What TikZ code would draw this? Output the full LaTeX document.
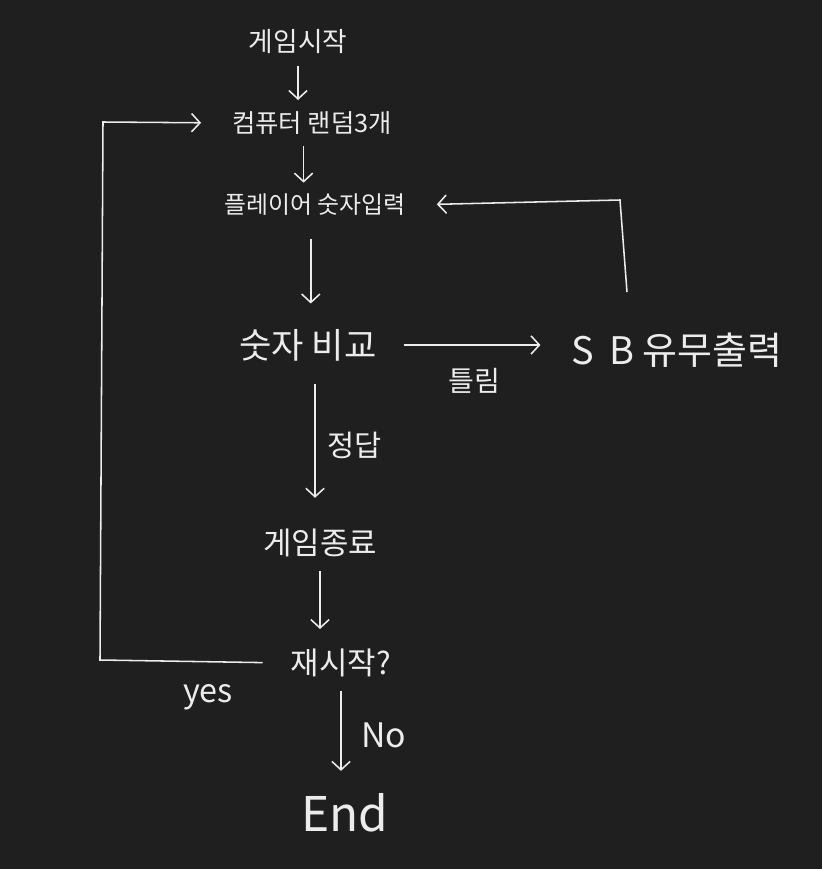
\documentclass[tikz,border=0pt]{standalone}
\usepackage{fontspec}
\newfontfamily\kr{Noto Sans CJK KR}
\usetikzlibrary{arrows.meta}
\definecolor{bg}{HTML}{1F1F1F}
\definecolor{ink}{HTML}{ECECEC}
\tikzset{
  txt/.style={text=ink,inner sep=2pt,font=\kr\fontsize{#1}{#1}\selectfont},
  flow/.style={draw=ink,line width=1.1pt,->}
}

\begin{document}
\begin{tikzpicture}[x=0.025cm,y=-0.025cm,>={Straight Barb[length=6pt,width=13pt]}]
  \fill[bg] (0,0) rectangle (822,869);
  % steps
  \node[txt=19] (start) at (298,42) {게임시작};
  \node[txt=18] (comp) at (312,123) {컴퓨터 랜덤3개};
  \node[txt=17] (player) at (315,205) {플레이어 숫자입력};
  \node[txt=25] (cmp) at (308,345) {숫자 비교};
  \node[txt=27] (sb) at (677,350) {S\, B 유무출력};
  \node[txt=22] (over) at (320,543) {게임종료};
  \node[txt=22] (again) at (341,663) {재시작?};
  \node[txt=34] (end) at (345,813) {End};
  % corners
  \coordinate (fb) at (627,292);
  \coordinate (turn) at (620,200);
  \coordinate (yl) at (100,660);
  \coordinate (yt) at (103,122);
  % arrows
  \draw[flow,shorten <=6pt,shorten >=6pt] (start.south) -- (start.south |- comp.north);
  \draw[flow,shorten <=6pt,shorten >=6pt] ([xshift=-6pt]comp.south) -- ([xshift=-6pt]comp.south |- player.north);
  \draw[flow,shorten <=14pt,shorten >=16pt] ([xshift=-3pt]player.south) -- ([xshift=-3pt]player.south |- cmp.north);
  \draw[flow,shorten <=17pt,shorten >=20pt] (cmp.east) -- (sb.west |- cmp.east)
    node[midway,below=14pt,txt=20] (wrong) {틀림};
  \draw[flow,shorten >=20pt] (fb) -- (turn) -- (player.east);
  \draw[flow,shorten <=14pt,shorten >=20pt] ([xshift=5pt]cmp.south) -- ([xshift=5pt]cmp.south |- over.north)
    node[midway,right=6pt,txt=21] (right) {정답};
  \draw[flow,shorten <=8pt,shorten >=12pt] (over.south) -- (over.south |- again.north);
  \draw[flow,shorten <=18pt,shorten >=20pt] (again.west) -- (yl) -- (yt) -- (comp.west);
  \node[txt=23] (yes) at (208,697) {yes};
  \draw[flow,shorten <=8pt,shorten >=14pt] (again.south) -- (again.south |- end.north)
    node[midway,right=12pt,txt=24] (no) {No};
\end{tikzpicture}
\end{document}
